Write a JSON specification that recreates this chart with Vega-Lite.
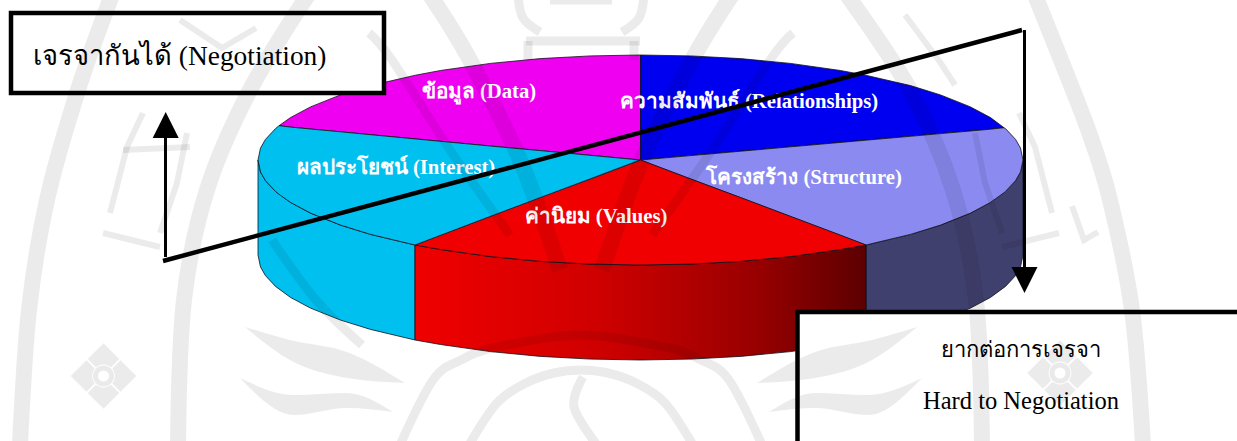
{
"$schema":"https://vega.github.io/schema/vega-lite/v6.json",
"width":1237,"height":441,"padding":0,"autosize":{"type":"none"},"background":"white",
"config":{"view":{"stroke":null}},
"encoding":{
 "x":{"field":"x","type":"quantitative","axis":null,"scale":{"domain":[0,1237],"nice":false,"zero":false}},
 "y":{"field":"y","type":"quantitative","axis":null,"scale":{"domain":[441,0],"nice":false,"zero":false}}
},
"datasets":{
 "walls":[
  {"slice":"Interest side","x":258,"y":160,"y2":255},{"slice":"Interest side","x":260.5,"y":172,"y2":267},{"slice":"Interest side","x":265.5,"y":180.7,"y2":275.7},{"slice":"Interest side","x":275.5,"y":191.4,"y2":286.4},{"slice":"Interest side","x":290.5,"y":202.4,"y2":297.4},{"slice":"Interest side","x":310.5,"y":213.1,"y2":308.1},{"slice":"Interest side","x":340.5,"y":225.1,"y2":320.1},{"slice":"Interest side","x":370.5,"y":234.4,"y2":329.4},{"slice":"Interest side","x":415,"y":245,"y2":340},
  {"slice":"Structure side","x":866,"y":245,"y2":340},{"slice":"Structure side","x":910.5,"y":234.4,"y2":329.4},{"slice":"Structure side","x":940.5,"y":225.1,"y2":320.1},{"slice":"Structure side","x":970.5,"y":213.1,"y2":308.1},{"slice":"Structure side","x":990.5,"y":202.4,"y2":297.4},{"slice":"Structure side","x":1005.5,"y":191.4,"y2":286.4},{"slice":"Structure side","x":1015.5,"y":180.7,"y2":275.7},{"slice":"Structure side","x":1020.5,"y":172,"y2":267},{"slice":"Structure side","x":1023,"y":160,"y2":255}
 ],
 "valuesWall":[
  {"x":415,"y":245,"y2":340},{"x":440.5,"y":249.5,"y2":344.5},{"x":490.5,"y":256.6,"y2":351.6},{"x":540.5,"y":261.4,"y2":356.4},{"x":590.5,"y":264.1,"y2":359.1},{"x":640.5,"y":265,"y2":360},{"x":690.5,"y":264.1,"y2":359.1},{"x":740.5,"y":261.4,"y2":356.4},{"x":790.5,"y":256.6,"y2":351.6},{"x":840.5,"y":249.5,"y2":344.5},{"x":866,"y":245,"y2":340}
 ],
 "faces":[
  {"slice":"Data","x":279,"y":125.7,"y2":125.7},{"slice":"Data","x":290.5,"y":117.6,"y2":127.1},{"slice":"Data","x":310.5,"y":106.9,"y2":129},{"slice":"Data","x":340.5,"y":94.9,"y2":131.8},{"slice":"Data","x":370.5,"y":85.6,"y2":134.7},{"slice":"Data","x":415.5,"y":75.2,"y2":138.9},{"slice":"Data","x":440.5,"y":70.5,"y2":141.3},{"slice":"Data","x":490.5,"y":63.4,"y2":146},{"slice":"Data","x":540.5,"y":58.6,"y2":150.6},{"slice":"Data","x":590.5,"y":55.9,"y2":155.3},{"slice":"Data","x":640.5,"y":55,"y2":160},
  {"slice":"Relationships","x":640.5,"y":55,"y2":160},{"slice":"Relationships","x":690.5,"y":55.9,"y2":155.6},{"slice":"Relationships","x":740.5,"y":58.6,"y2":151.2},{"slice":"Relationships","x":790.5,"y":63.4,"y2":146.8},{"slice":"Relationships","x":840.5,"y":70.5,"y2":142.4},{"slice":"Relationships","x":865.5,"y":75.2,"y2":140.2},{"slice":"Relationships","x":910.5,"y":85.6,"y2":136.3},{"slice":"Relationships","x":940.5,"y":94.9,"y2":133.6},{"slice":"Relationships","x":970.5,"y":106.9,"y2":131},{"slice":"Relationships","x":990.5,"y":117.6,"y2":129.2},{"slice":"Relationships","x":1004,"y":127.7,"y2":127.7},
  {"slice":"Structure","x":640.5,"y":160,"y2":160},{"slice":"Structure","x":700,"y":154.8,"y2":182.4},{"slice":"Structure","x":800,"y":146,"y2":220},{"slice":"Structure","x":866,"y":140.2,"y2":245},{"slice":"Structure","x":910.5,"y":136.3,"y2":234.4},{"slice":"Structure","x":940.5,"y":133.6,"y2":225.1},{"slice":"Structure","x":970.5,"y":131,"y2":213.1},{"slice":"Structure","x":990.5,"y":129.2,"y2":202.4},{"slice":"Structure","x":1004,"y":127.7,"y2":192.7},{"slice":"Structure","x":1005.5,"y":128.6,"y2":191.4},{"slice":"Structure","x":1015.5,"y":139.3,"y2":180.7},{"slice":"Structure","x":1020.5,"y":148,"y2":172},{"slice":"Structure","x":1023,"y":160,"y2":160},
  {"slice":"Values","x":415,"y":245,"y2":245},{"slice":"Values","x":440.5,"y":235,"y2":249.5},{"slice":"Values","x":490.5,"y":216,"y2":256.6},{"slice":"Values","x":540.5,"y":197,"y2":261.4},{"slice":"Values","x":590.5,"y":179,"y2":264.1},{"slice":"Values","x":640.5,"y":160,"y2":265},{"slice":"Values","x":690.5,"y":179,"y2":264.1},{"slice":"Values","x":740.5,"y":197.5,"y2":261.4},{"slice":"Values","x":790.5,"y":216.4,"y2":256.6},{"slice":"Values","x":840.5,"y":235.2,"y2":249.5},{"slice":"Values","x":866,"y":245,"y2":245},
  {"slice":"Interest","x":258,"y":160,"y2":160},{"slice":"Interest","x":260.5,"y":148,"y2":172},{"slice":"Interest","x":265.5,"y":139.3,"y2":180.7},{"slice":"Interest","x":275.5,"y":128.6,"y2":191.4},{"slice":"Interest","x":279,"y":125.7,"y2":194.3},{"slice":"Interest","x":290.5,"y":127.1,"y2":202.4},{"slice":"Interest","x":310.5,"y":129,"y2":213.1},{"slice":"Interest","x":340.5,"y":131.8,"y2":225.1},{"slice":"Interest","x":370.5,"y":134.7,"y2":234.4},{"slice":"Interest","x":415,"y":138.9,"y2":245},{"slice":"Interest","x":490,"y":146,"y2":216.5},{"slice":"Interest","x":540,"y":150.6,"y2":197.7},{"slice":"Interest","x":590,"y":155.3,"y2":178.9},{"slice":"Interest","x":640,"y":160,"y2":160}
 ],
 "pieLabels":[
  {"text":"ข้อมูล (Data)","x":479,"y":98},
  {"text":"ความสัมพันธ์ (Relationships)","x":749,"y":108},
  {"text":"ผลประโยชน์ (Interest)","x":396,"y":174},
  {"text":"โครงสร้าง (Structure)","x":804,"y":184},
  {"text":"ค่านิยม (Values)","x":596,"y":223}
 ],
 "boxes":[
  {"x":11,"x2":384,"y":13,"y2":93},
  {"x":797.5,"x2":1245,"y":312,"y2":450}
 ],
 "rules":[
  {"id":"axis","seq":1,"x":163,"y":261},{"id":"axis","seq":2,"x":1022,"y":30}
 ],
 "shafts":[
  {"id":"up","seq":1,"x":165.5,"y":257},{"id":"up","seq":2,"x":165.5,"y":135},
  {"id":"down","seq":1,"x":1024.5,"y":30},{"id":"down","seq":2,"x":1024.5,"y":270}
 ],
 "heads":[
  {"id":"up","x":152.7,"y":138,"y2":138},{"id":"up","x":165.7,"y":112,"y2":138},{"id":"up","x":178.7,"y":138,"y2":138},
  {"id":"down","x":1011.5,"y":267,"y2":267},{"id":"down","x":1024.5,"y":267,"y2":293},{"id":"down","x":1037.5,"y":267,"y2":267}
 ],
 "sealRings":[
  {"id":"lo","seq":1,"x":112,"y":-5},{"id":"lo","seq":2,"x":78,"y":90},{"id":"lo","seq":3,"x":47,"y":200},{"id":"lo","seq":4,"x":29,"y":310},{"id":"lo","seq":5,"x":20,"y":445},
  {"id":"ro","seq":1,"x":1035,"y":-5},{"id":"ro","seq":2,"x":1063,"y":65},{"id":"ro","seq":3,"x":1090,"y":135},{"id":"ro","seq":4,"x":1110,"y":200},{"id":"ro","seq":5,"x":1132,"y":310},{"id":"ro","seq":6,"x":1143,"y":445},
  {"id":"li","seq":1,"x":308,"y":-5},{"id":"li","seq":2,"x":250,"y":90},{"id":"li","seq":3,"x":207,"y":190},{"id":"li","seq":4,"x":184,"y":300},{"id":"li","seq":5,"x":178,"y":445},
  {"id":"ri","seq":1,"x":847,"y":-5},{"id":"ri","seq":2,"x":910,"y":90},{"id":"ri","seq":3,"x":953,"y":190},{"id":"ri","seq":4,"x":976,"y":300},{"id":"ri","seq":5,"x":982,"y":445},
  {"id":"a1","seq":1,"x":430,"y":-5},{"id":"a1","seq":2,"x":470,"y":60},{"id":"a1","seq":3,"x":520,"y":160},{"id":"a1","seq":4,"x":560,"y":270},
  {"id":"a2","seq":1,"x":732,"y":-5},{"id":"a2","seq":2,"x":692,"y":60},{"id":"a2","seq":3,"x":642,"y":160},{"id":"a2","seq":4,"x":602,"y":270}
 ],
 "sealBands":[
  {"id":"b1","seq":1,"x":369,"y":33},{"id":"b1","seq":2,"x":392,"y":60},{"id":"b1","seq":3,"x":450,"y":150},{"id":"b1","seq":4,"x":510,"y":235},
  {"id":"b2","seq":1,"x":793,"y":33},{"id":"b2","seq":2,"x":770,"y":60},{"id":"b2","seq":3,"x":712,"y":150},{"id":"b2","seq":4,"x":652,"y":235},
  {"id":"outer","seq":1,"x":400,"y":445},{"id":"outer","seq":2,"x":433,"y":380},{"id":"outer","seq":3,"x":461,"y":360},{"id":"outer","seq":4,"x":497,"y":347},{"id":"outer","seq":5,"x":581,"y":335},{"id":"outer","seq":6,"x":665,"y":347},{"id":"outer","seq":7,"x":701,"y":360},{"id":"outer","seq":8,"x":729,"y":380},{"id":"outer","seq":9,"x":762,"y":445},
  {"id":"inner","seq":1,"x":469,"y":445},{"id":"inner","seq":2,"x":497,"y":403},{"id":"inner","seq":3,"x":526,"y":383},{"id":"inner","seq":4,"x":554,"y":373},{"id":"inner","seq":5,"x":581,"y":370},{"id":"inner","seq":6,"x":608,"y":373},{"id":"inner","seq":7,"x":636,"y":383},{"id":"inner","seq":8,"x":665,"y":403},{"id":"inner","seq":9,"x":693,"y":445},
  {"id":"flame","seq":1,"x":583,"y":377},{"id":"flame","seq":2,"x":574,"y":407},{"id":"flame","seq":3,"x":597,"y":445},
  {"id":"crownL","seq":1,"x":518,"y":-5},{"id":"crownL","seq":2,"x":523,"y":18},{"id":"crownL","seq":3,"x":540,"y":32},
  {"id":"crownR","seq":1,"x":644,"y":-5},{"id":"crownR","seq":2,"x":639,"y":18},{"id":"crownR","seq":3,"x":622,"y":32},
  {"id":"crownBar","seq":1,"x":526,"y":41},{"id":"crownBar","seq":2,"x":640,"y":41},
  {"id":"crownIn","seq":1,"x":550,"y":0},{"id":"crownIn","seq":2,"x":612,"y":0},
  {"id":"crownL2","seq":1,"x":528,"y":41},{"id":"crownL2","seq":2,"x":528,"y":60},
  {"id":"crownR2","seq":1,"x":634,"y":41},{"id":"crownR2","seq":2,"x":634,"y":60},
  {"id":"tl","seq":1,"x":272,"y":240},{"id":"tl","seq":2,"x":316,"y":300},{"id":"tl","seq":3,"x":362,"y":345}
 ],
 "sealGlyphs":[
  {"id":"g1","seq":1,"x":143,"y":113},{"id":"g1","seq":2,"x":127,"y":147},{"id":"g1","seq":3,"x":110,"y":213},
  {"id":"g2","seq":1,"x":187,"y":133},{"id":"g2","seq":2,"x":177,"y":183},{"id":"g2","seq":3,"x":160,"y":233},
  {"id":"g3","seq":1,"x":103,"y":233},{"id":"g3","seq":2,"x":160,"y":247},
  {"id":"g4","seq":1,"x":123,"y":150},{"id":"g4","seq":2,"x":190,"y":147},
  {"id":"g5","seq":1,"x":180,"y":20},{"id":"g5","seq":2,"x":222,"y":48},{"id":"g5","seq":3,"x":256,"y":28},
  {"id":"g6","seq":1,"x":1019,"y":113},{"id":"g6","seq":2,"x":1035,"y":147},{"id":"g6","seq":3,"x":1052,"y":213},
  {"id":"g7","seq":1,"x":975,"y":133},{"id":"g7","seq":2,"x":985,"y":183},{"id":"g7","seq":3,"x":1002,"y":233},
  {"id":"g8","seq":1,"x":1002,"y":247},{"id":"g8","seq":2,"x":1059,"y":233},
  {"id":"g9","seq":1,"x":1072,"y":206},{"id":"g9","seq":2,"x":1084,"y":240},{"id":"g9","seq":3,"x":1098,"y":232},
  {"id":"g10","seq":1,"x":905,"y":15},{"id":"g10","seq":2,"x":940,"y":62},{"id":"g10","seq":3,"x":955,"y":85}
 ],
 "feathers":[
  {"id":"f1","x":245,"y":327,"y2":327},{"id":"f1","x":290,"y":340,"y2":360},{"id":"f1","x":347,"y":352,"y2":378},{"id":"f1","x":405,"y":383,"y2":383},
  {"id":"f2","x":240,"y":378,"y2":378},{"id":"f2","x":294,"y":395,"y2":415},{"id":"f2","x":347,"y":393,"y2":408},{"id":"f2","x":393,"y":412,"y2":412},
  {"id":"f3","x":757,"y":383,"y2":383},{"id":"f3","x":815,"y":352,"y2":378},{"id":"f3","x":872,"y":340,"y2":360},{"id":"f3","x":917,"y":327,"y2":327},
  {"id":"f4","x":769,"y":412,"y2":412},{"id":"f4","x":815,"y":393,"y2":408},{"id":"f4","x":868,"y":395,"y2":415},{"id":"f4","x":922,"y":378,"y2":378}
 ],
 "petals":[
  {"x":103.5,"y":359},{"x":86.5,"y":376},{"x":120.5,"y":376},{"x":103.5,"y":393},
  {"x":1060,"y":356},{"x":1043,"y":373},{"x":1077,"y":373},{"x":1060,"y":390}
 ],
 "flowerEyes":[{"x":103.5,"y":376},{"x":1060,"y":373}]
},
"layer":[
 {"data":{"name":"walls"},"mark":{"type":"area","stroke":"#10101c","strokeWidth":0.8},
  "encoding":{"y2":{"field":"y2"},"color":{"field":"slice","type":"nominal","legend":null,"scale":{"domain":["Data","Relationships","Structure","Values","Interest","Interest side","Structure side"],"range":["#f000f0","#0000f0","#8a8af0","#f00000","#00c0f0","#00c0f0","#40406e"]}}}},
 {"data":{"name":"valuesWall"},"mark":{"type":"area","stroke":"#10101c","strokeWidth":0.8,
   "fill":{"gradient":"linear","x1":0,"y1":0,"x2":1,"y2":0,"stops":[{"offset":0,"color":"#f00000"},{"offset":0.4,"color":"#d00000"},{"offset":0.75,"color":"#9a0000"},{"offset":1,"color":"#5c0000"}]}},
  "encoding":{"y2":{"field":"y2"}}},
 {"data":{"name":"faces"},"mark":{"type":"area","stroke":"#10101c","strokeWidth":0.8},
  "encoding":{"y2":{"field":"y2"},"color":{"field":"slice","type":"nominal","legend":null,"scale":{"domain":["Data","Relationships","Structure","Values","Interest","Interest side","Structure side"],"range":["#f000f0","#0000f0","#8a8af0","#f00000","#00c0f0","#00c0f0","#40406e"]}}}},
 {"data":{"name":"pieLabels"},"mark":{"type":"text","font":"Liberation Serif","fontWeight":"bold","fontSize":20.7,"color":"white","align":"center","baseline":"alphabetic"},
  "encoding":{"text":{"field":"text"}}},
 {"data":{"name":"boxes"},"mark":{"type":"rect","fill":"white","stroke":"black","strokeWidth":4.5,"clip":true},
  "encoding":{"x2":{"field":"x2"},"y2":{"field":"y2"}}},
 {"data":{"name":"rules"},"mark":{"type":"line","color":"black","strokeWidth":4.5},
  "encoding":{"order":{"field":"seq"},"detail":{"field":"id"}}},
 {"data":{"name":"shafts"},"mark":{"type":"line","color":"black","strokeWidth":3},
  "encoding":{"order":{"field":"seq"},"detail":{"field":"id"}}},
 {"data":{"name":"heads"},"mark":{"type":"area","color":"black"},
  "encoding":{"y2":{"field":"y2"},"detail":{"field":"id"}}},
 {"data":{"name":"sealRings"},"mark":{"type":"line","color":"black","opacity":0.08,"strokeWidth":16,"interpolate":"cardinal","clip":true},
  "encoding":{"order":{"field":"seq"},"detail":{"field":"id"}}},
 {"data":{"name":"sealBands"},"mark":{"type":"line","color":"black","opacity":0.08,"strokeWidth":9,"interpolate":"cardinal","clip":true},
  "encoding":{"order":{"field":"seq"},"detail":{"field":"id"}}},
 {"data":{"name":"sealGlyphs"},"mark":{"type":"line","color":"black","opacity":0.08,"strokeWidth":6},
  "encoding":{"order":{"field":"seq"},"detail":{"field":"id"}}},
 {"data":{"name":"feathers"},"mark":{"type":"area","color":"black","opacity":0.08,"interpolate":"monotone"},
  "encoding":{"y2":{"field":"y2"},"detail":{"field":"id"}}},
 {"data":{"name":"petals"},"mark":{"type":"point","shape":"diamond","filled":true,"size":1000,"color":"black","opacity":0.08}},
 {"data":{"name":"flowerEyes"},"mark":{"type":"point","shape":"circle","filled":true,"size":520,"color":"white","opacity":1}},
 {"data":{"name":"flowerEyes"},"mark":{"type":"point","shape":"circle","filled":false,"size":260,"color":"black","strokeWidth":5,"opacity":0.08}},
 {"data":{"values":[{"text":"เจรจากันได้ (Negotiation)","x":33,"y":65}]},"mark":{"type":"text","font":"Liberation Serif","fontSize":27.4,"color":"black","align":"left","baseline":"alphabetic"},
  "encoding":{"text":{"field":"text"}}},
 {"data":{"values":[{"text":"ยากต่อการเจรจา","x":1021,"y":357}]},"mark":{"type":"text","font":"Liberation Serif","fontSize":22,"color":"black","align":"center","baseline":"alphabetic"},
  "encoding":{"text":{"field":"text"}}},
 {"data":{"values":[{"text":"Hard to Negotiation","x":1021,"y":409}]},"mark":{"type":"text","font":"Liberation Serif","fontSize":24.5,"color":"black","align":"center","baseline":"alphabetic"},
  "encoding":{"text":{"field":"text"}}}
]
}
